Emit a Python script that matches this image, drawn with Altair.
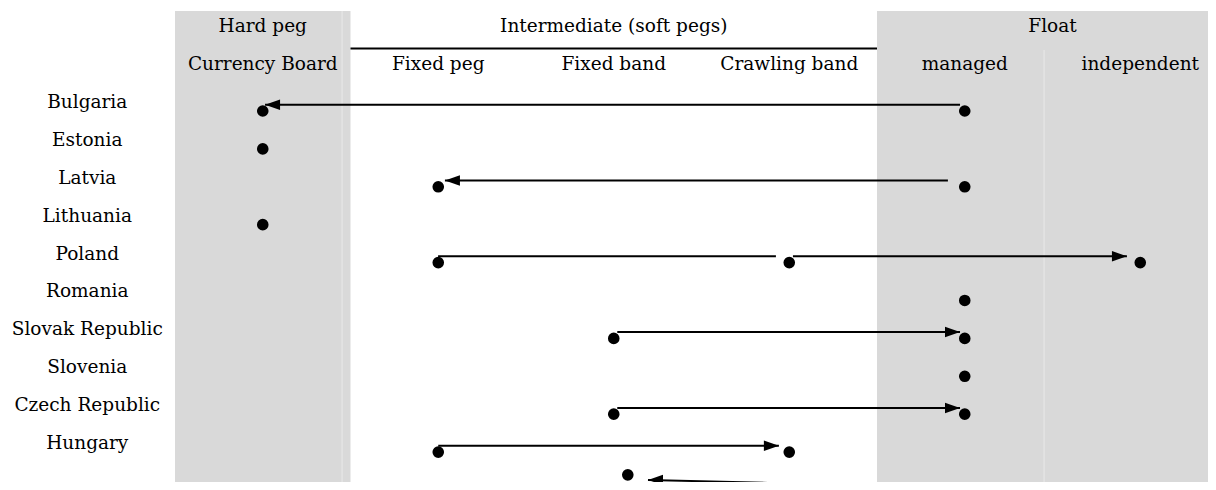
import altair as alt
import pandas as pd

# ---- data ----
countries = ["Bulgaria", "Estonia", "Latvia", "Lithuania", "Poland", "Romania",
             "Slovak Republic", "Slovenia", "Czech Republic", "Hungary"]
country_rows = [0, 1, 2, 3, 4, 5, 6, 7, 8, 9]

top_headers = ["Hard peg", "Intermediate (soft pegs)", "Float"]
top_header_cols = [1, 3, 5.5]
sub_headers = ["Currency Board", "Fixed peg", "Fixed band", "Crawling band", "managed", "independent"]
sub_header_cols = [1, 2, 3, 4, 5, 6]

# regime points (row, column)
dot_rows = [0, 0, 1, 2, 2, 3, 4, 4, 4, 5, 6, 6, 7, 8, 8, 9, 9, 9.6]
dot_cols = [1, 5, 1, 2, 5, 1, 2, 4, 6, 5, 3, 5, 5, 3, 5, 2, 4, 3.08]

# transitions
arrow_rows = [0, 2, 4, 4, 6, 8, 9, 9.98]
arrow_rows_end = [0, 2, 4, 4, 6, 8, 9, 9.90]
arrow_from = [4.973, 4.904, 1.999, 4.021, 3.02, 3.02, 2.0, 3.879]
arrow_to = [1.013, 2.038, 3.924, 5.924, 4.973, 4.973, 3.941, 3.195]
arrow_head = ["left", "left", "none", "right", "right", "right", "right", "left"]

# shaded regime groups
band_start = [0.5, 4.5]
band_end = [1.5, 6.6]

FONT = "DejaVu Serif"
FS = 18.5
GREY = "#d9d9d9"

xs = alt.Scale(domain=[-0.4516, 6.386], nice=False, zero=False)
ys = alt.Scale(domain=[-2.480, 10.027], reverse=True, nice=False, zero=False)

def X(f):
    return alt.X(f, type="quantitative", scale=xs, axis=None)

def Y(f):
    return alt.Y(f, type="quantitative", scale=ys, axis=None)

bands = pd.DataFrame({"x": band_start, "x2": band_end,
                      "y": [-2.40, -2.40], "y2": [10.6, 10.6]})
band_layer = alt.Chart(bands).mark_rect(color=GREY, clip=True).encode(
    x=X("x"), x2="x2", y=Y("y"), y2="y2")

seps = pd.DataFrame({"x": [1.452, 5.452], "y": [-2.40, -1.372], "y2": [10.6, 10.6]})
sep_layer = alt.Chart(seps).mark_rule(color="#e9e9e9", strokeWidth=1, clip=True).encode(
    x=X("x"), y=Y("y"), y2="y2")

hline = pd.DataFrame({"x": [1.5], "x2": [4.5], "y": [-1.41]})
hline_layer = alt.Chart(hline).mark_rule(color="black", strokeWidth=2).encode(
    x=X("x"), x2="x2", y=Y("y"))

labels = pd.DataFrame({"t": countries, "x": [0] * len(countries), "y": country_rows})
heads = pd.DataFrame({
    "t": top_headers + sub_headers,
    "x": top_header_cols + sub_header_cols,
    "y": [-2] * len(top_headers) + [-1] * len(sub_headers),
})
text_df = pd.concat([labels, heads], ignore_index=True)
text_layer = alt.Chart(text_df).mark_text(
    font=FONT, fontSize=FS, baseline="middle", align="center", color="black"
).encode(x=X("x"), y=Y("y"), text="t:N")

arrows = pd.DataFrame({"y": arrow_rows, "y2": arrow_rows_end,
                       "x": arrow_from, "x2": arrow_to, "head": arrow_head})
line_layer = alt.Chart(arrows).mark_rule(
    color="black", strokeWidth=2, yOffset=2.7, y2Offset=2.7
).encode(x=X("x"), x2="x2", y=Y("y"), y2="y2")

path_left = "M0,0L2,-0.7L2,0.7Z"
path_right = "M0,0L-2,-0.7L-2,0.7Z"
head_layer = alt.Chart(arrows).transform_filter(
    alt.datum.head != "none"
).mark_point(filled=True, color="black", opacity=1, size=225, yOffset=2.7, strokeWidth=0).encode(
    x=X("x2"), y=Y("y2"),
    shape=alt.Shape("head:N", scale=alt.Scale(domain=["left", "right"], range=[path_left, path_right]),
                    legend=None))

dots = pd.DataFrame({"x": dot_cols, "y": dot_rows})
dot_layer = alt.Chart(dots).mark_circle(color="black", opacity=1, size=135, yOffset=9).encode(
    x=X("x"), y=Y("y"))

chart = alt.layer(band_layer, sep_layer, hline_layer, text_layer, line_layer, head_layer, dot_layer).properties(
    width=1200, height=474, padding=0,
    autosize=alt.AutoSizeParams(type="none"),
).configure_view(stroke=None)

chart.save("out.html", embed_options={"renderer": "svg", "actions": False})
